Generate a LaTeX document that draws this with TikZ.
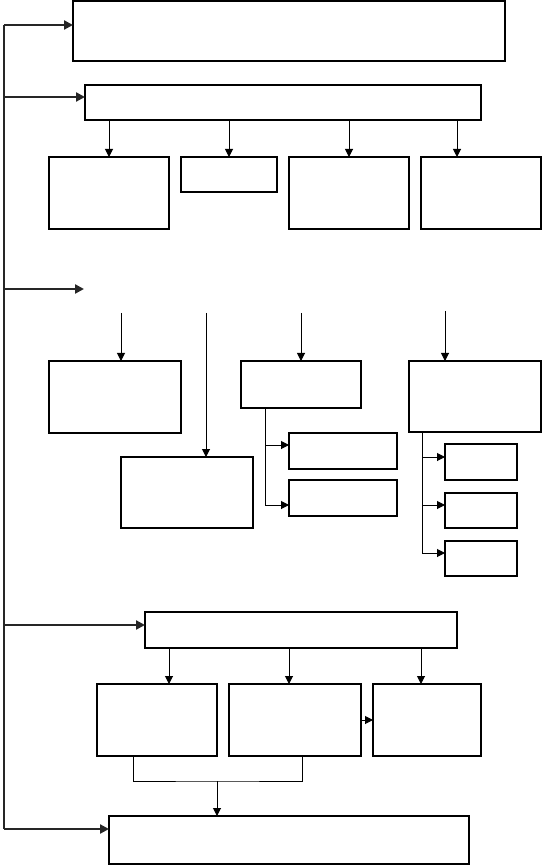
\documentclass[tikz,border=0pt]{standalone}
\usepackage{tikz}
\usetikzlibrary{positioning,arrows.meta,calc}
\tikzset{
  box/.style  ={rectangle,draw=black,line width=0.6pt,inner sep=0pt,outer sep=0pt,anchor=north west},
  flow/.style ={-{Triangle[length=4pt,width=4pt]},line width=0.5pt,draw=black},
  link/.style ={line width=0.5pt,draw=black},
  spine/.style={line width=1.2pt,draw=black!85},
  feed/.style ={-{Triangle[length=4.5pt,width=4.5pt]},line width=1.2pt,draw=black!85},
}
\begin{document}
\begin{tikzpicture}[x=0.5pt,y=-0.5pt]
  \useasboundingbox (0,0) rectangle (542,865);
  % top level
  \node[box,minimum width=216pt,minimum height=30pt] (top) at (73,1) {};
  \node[box,minimum width=198pt,minimum height=17.5pt] (plan) at (85,85) {};
  \node[box,minimum width=60pt,minimum height=36pt] (a1) at (49,157) {};
  \node[box,minimum width=48pt,minimum height=17.5pt] (a2) at (181,157) {};
  \node[box,minimum width=60pt,minimum height=36pt] (a3) at (289,157) {};
  \node[box,minimum width=60pt,minimum height=36pt] (a4) at (421,157) {};
  % middle level
  \node[box,minimum width=66pt,minimum height=36pt] (c1) at (49,361) {};
  \node[box,minimum width=66pt,minimum height=35.5pt] (c2) at (121,457) {};
  \node[box,minimum width=60pt,minimum height=23.5pt] (c3) at (241,361) {};
  \node[box,minimum width=54pt,minimum height=18pt] (c3a) at (289,433) {};
  \node[box,minimum width=54pt,minimum height=18pt] (c3b) at (289,480) {};
  \node[box,minimum width=66pt,minimum height=35.5pt] (c4) at (409,361) {};
  \node[box,minimum width=36pt,minimum height=18pt] (c4a) at (445,444) {};
  \node[box,minimum width=36pt,minimum height=17.5pt] (c4b) at (445,493) {};
  \node[box,minimum width=36pt,minimum height=17.5pt] (c4c) at (445,541) {};
  % bottom level
  \node[box,minimum width=156pt,minimum height=18pt] (d) at (145,612) {};
  \node[box,minimum width=60pt,minimum height=36pt] (e1) at (97,684) {};
  \node[box,minimum width=66pt,minimum height=36pt] (e2) at (229,684) {};
  \node[box,minimum width=54pt,minimum height=36pt] (e3) at (373,684) {};
  \node[box,minimum width=180pt,minimum height=24pt] (f) at (109,816) {};

  % spine
  \coordinate (s1) at (4,25);
  \coordinate (s2) at (4,97);
  \coordinate (s3) at (4,289);
  \coordinate (s4) at (4,625);
  \coordinate (s5) at (4,829);
  \coordinate (p3) at (84,289);
  \draw[spine] (s1) -- (s5);
  \draw[feed] (s1) -- (s1 -| top.west);
  \draw[feed] (s2) -- (s2 -| plan.west);
  \draw[feed] (s3) -- (p3);
  \draw[feed] (s4) -- (s4 -| d.west);
  \draw[feed] (s5) -- (s5 -| f.west);

  % plan to row a
  \foreach \x in {a1,a2,a3}{\draw[flow] (plan.south -| \x) -- (\x.north);}
  \draw[flow] ([xshift=-12pt]plan.south -| a4) -- ([xshift=-12pt]a4.north);

  % free arrows into row c
  \coordinate (q1) at (121,313);
  \coordinate (q2) at (206,313);
  \coordinate (q3) at (301,313);
  \coordinate (q4) at (445,311);
  \draw[flow] (q1) -- (q1 |- c1.north);
  \draw[flow] (q2) -- (q2 |- c2.north);
  \draw[flow] (q3) -- (q3 |- c3.north);
  \draw[flow] (q4) -- (q4 |- c4.north);

  % c3 branches
  \coordinate (j3) at ([xshift=12pt]c3.south west);
  \coordinate (t3a) at ([yshift=3pt]c3a.west);
  \coordinate (t3b) at ([yshift=-3.5pt]c3b.west);
  \draw[flow] (j3) |- (t3b);
  \draw[flow] (j3 |- t3a) -- (t3a);
  % c4 branches
  \coordinate (j4) at ([xshift=6.5pt]c4.south west);
  \coordinate (t4a) at ([yshift=2.5pt]c4a.west);
  \coordinate (t4b) at ([yshift=2.75pt]c4b.west);
  \coordinate (t4c) at ([yshift=2.75pt]c4c.west);
  \draw[flow] (j4) |- (t4c);
  \draw[flow] (j4 |- t4a) -- (t4a);
  \draw[flow] (j4 |- t4b) -- (t4b);

  % d to row e
  \draw[flow] ([xshift=6pt]d.south -| e1) -- ([xshift=6pt]e1.north);
  \draw[flow] ([xshift=-3pt]d.south -| e2) -- ([xshift=-3pt]e2.north);
  \draw[flow] ([xshift=-3pt]d.south -| e3) -- ([xshift=-3pt]e3.north);
  \draw[flow] (e2) -- (e3);

  % merge into f
  \coordinate (m) at (217,781);
  \draw[link] ([xshift=-12pt]e1.south) |- (m) -| ([xshift=3.5pt]e2.south);
  \draw[flow] (m) -- (m |- f.north);
\end{tikzpicture}
\end{document}
